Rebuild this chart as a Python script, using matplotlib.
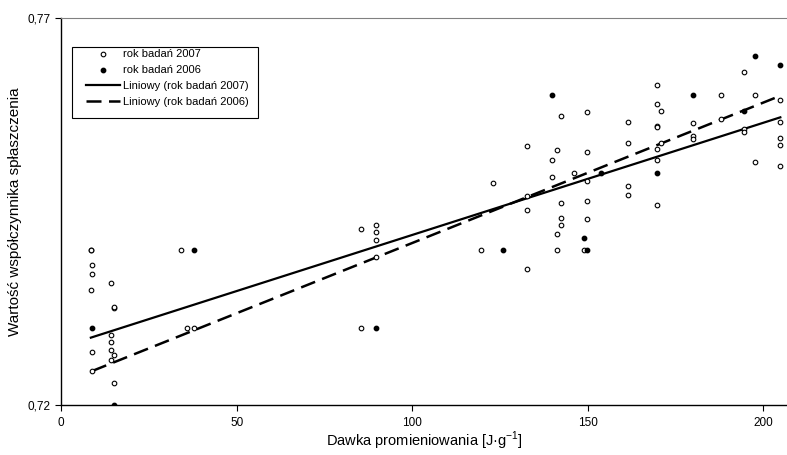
import numpy as np
import matplotlib
matplotlib.use("Agg")
import matplotlib.pyplot as plt
from matplotlib.patches import Rectangle

plt.rcParams['font.family'] = ['Liberation Sans', 'DejaVu Sans']
plt.rcParams['mathtext.fontset'] = 'custom'
plt.rcParams['mathtext.rm'] = 'Liberation Sans'

# rok badań 2007 (kółka puste)
dawka_2007 = [8.5, 8.5, 8.9, 8.9, 8.5, 8.9, 8.9,
              14.1, 15, 15, 14.1, 14.1, 14.1, 15, 14.1, 15,
              34.2, 36, 37.8,
              85.3, 89.8, 89.8, 89.8, 89.8, 85.3,
              119.5, 123,
              132.8, 132.8, 132.8, 132.8,
              139.8, 139.8,
              141.3, 141.3, 141.3,
              142.3, 142.3, 142.3, 142.3,
              146, 148.8,
              149.8, 149.8, 149.8, 149.8, 149.8,
              161.3, 161.3, 161.3, 161.3,
              169.8, 169.8, 169.8, 169.8, 169.8, 169.8, 169.8,
              170.7, 170.7,
              179.8, 179.8, 179.8,
              187.8, 187.8,
              194.4, 194.4, 194.4,
              197.7, 197.7,
              204.8, 204.8, 204.8, 204.8, 204.8]
wart_2007 = [0.7400, 0.7400, 0.7381, 0.7369, 0.7349, 0.7268, 0.7244,
             0.7358, 0.7325, 0.7327, 0.7290, 0.7282, 0.7271, 0.7265, 0.7258, 0.7228,
             0.7400, 0.7300, 0.7300,
             0.7427, 0.7433, 0.7424, 0.7413, 0.7391, 0.7300,
             0.7400, 0.7487,
             0.7535, 0.7470, 0.7452, 0.7376,
             0.7517, 0.7494,
             0.7529, 0.7421, 0.7400,
             0.7573, 0.7461, 0.7442, 0.7433,
             0.7500, 0.7400,
             0.7578, 0.7527, 0.7490, 0.7463, 0.7440,
             0.7565, 0.7539, 0.7483, 0.7471,
             0.7613, 0.7589, 0.7561, 0.7559, 0.7531, 0.7516, 0.7459,
             0.7580, 0.7538,
             0.7564, 0.7548, 0.7544,
             0.7600, 0.7570,
             0.7630, 0.7557, 0.7553,
             0.7600, 0.7514,
             0.7594, 0.7565, 0.7545, 0.7536, 0.7509]

# rok badań 2006 (kropki pełne)
dawka_2006 = [8.9, 15, 37.8, 89.8, 125.8, 139.8, 148.8, 149.8,
              153.7, 169.8, 179.8, 194.4, 197.7, 204.8]
wart_2006 = [0.7299, 0.7200, 0.7400, 0.7300, 0.7400, 0.7600, 0.7416, 0.7400,
             0.7500, 0.7500, 0.7600, 0.7580, 0.7651, 0.7639]

# trendy liniowe: [nachylenie, wyraz wolny]
trend_2007 = [0.000145, 0.72747]
trend_2006 = [0.0001815, 0.72278]

x07 = np.array(dawka_2007)
y07 = np.array(wart_2007)
x06 = np.array(dawka_2006)
y06 = np.array(wart_2006)

xl07 = np.array([x07.min(), x07.max()])
xl06 = np.array([x06.min(), x06.max()])

fig = plt.figure(figsize=(7.87, 4.55), dpi=100)
ax = fig.add_axes([61/787, 50/455, 726/787, 387/455])

ax.scatter(x07, y07, s=11, facecolors='white', edgecolors='black',
           linewidths=0.8, zorder=3, label='rok badań 2007')
ax.scatter(x06, y06, s=10, color='black', zorder=3, label='rok badań 2006')
ax.plot(xl07, np.polyval(trend_2007, xl07), color='black', lw=1.6,
        label='Liniowy (rok badań 2007)')
ax.plot(xl06, np.polyval(trend_2006, xl06), color='black', lw=1.8, dashes=(6, 3),
        label='Liniowy (rok badań 2006)')

ax.set_xlim(0, 206.7)
ax.set_ylim(0.72, 0.77)
ax.set_xticks([0, 50, 100, 150, 200])
ax.set_yticks([0.72, 0.77])
ax.set_yticklabels(['0,72', '0,77'])
ax.tick_params(labelsize=8.5, length=4, width=0.8, direction='out')
ax.tick_params(axis='x', pad=5)

ax.spines['right'].set_visible(False)
ax.spines['top'].set_color('#808080')
for s in ['left', 'bottom']:
    ax.spines[s].set_color('black')
    ax.spines[s].set_linewidth(1.0)

ax.set_xlabel('Dawka promieniowania [J·g$^{-1}$]', fontsize=10.5, labelpad=0)
ax.set_ylabel('Wartość współczynnika spłaszczenia', fontsize=11, labelpad=4)

# legenda bez ramki + ramka rysowana osobno (szersze marginesy poziome)
leg = ax.legend(loc='upper left', bbox_to_anchor=(86/787, 1 - 49/455),
                bbox_transform=fig.transFigure, borderaxespad=0, borderpad=0,
                fontsize=8, frameon=False,
                handlelength=3.1, labelspacing=0.55, handletextpad=0.2,
                scatterpoints=1)
fig.patches.append(Rectangle((72/787, 1 - 118/455), 186/787, 71/455,
                             transform=fig.transFigure, fill=False,
                             edgecolor='black', linewidth=0.8))

fig.savefig('out.png', dpi=100)
